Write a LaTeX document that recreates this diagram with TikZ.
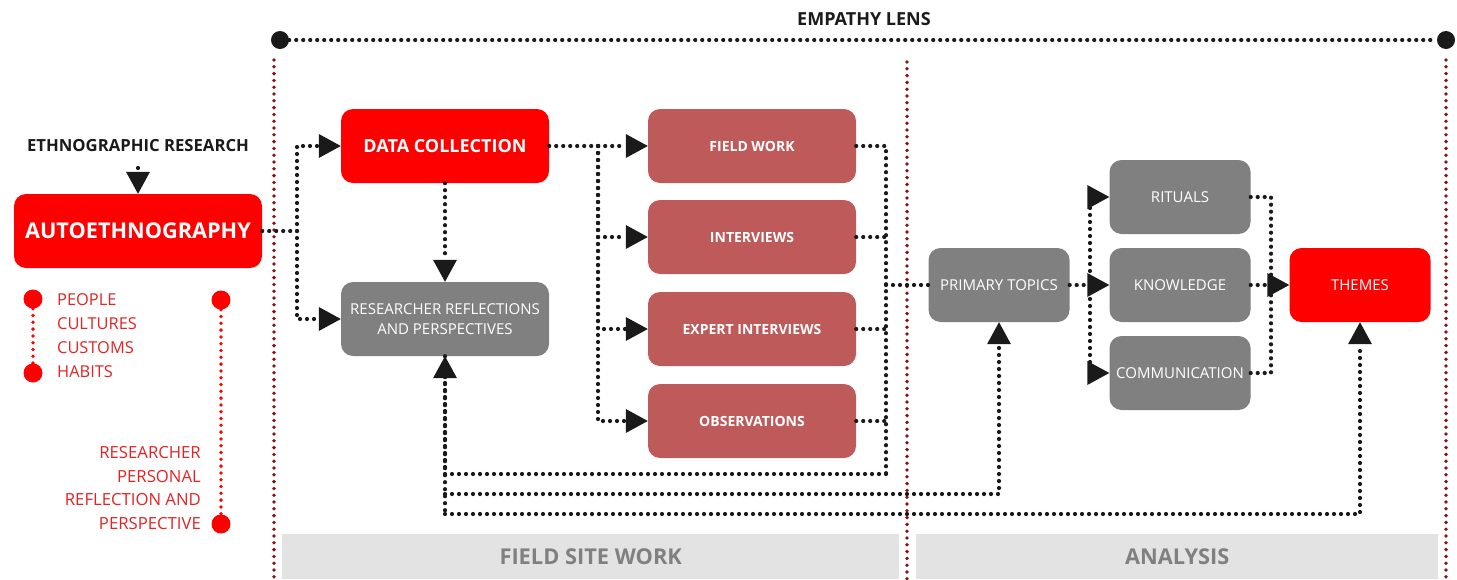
\documentclass[tikz,border=0pt]{standalone}
\usepackage{fontspec}
\setmainfont{Open Sans}
\usetikzlibrary{arrows.meta}
\definecolor{bred}{HTML}{FF0000}
\definecolor{mred}{HTML}{BE5A5A}
\definecolor{bgray}{HTML}{808080}
\definecolor{dred}{HTML}{8A1212}
\definecolor{tred}{HTML}{E32222}
\definecolor{band}{HTML}{E3E3E3}
\definecolor{ink}{HTML}{1A1A1A}
\tikzset{
  box/.style={rounded corners=12pt, minimum height=74pt, text=white, align=center, inner sep=0pt},
  bigbox/.style={box, minimum width=208pt},
  smallbox/.style={box, minimum width=141pt},
  redbox/.style={fill=bred},
  midbox/.style={fill=mred, font=\bfseries\fontsize{14}{17}\selectfont},
  graybox/.style={fill=bgray, font=\fontsize{15}{20}\selectfont},
  conn/.style={draw=ink, line width=4.2pt, line cap=round, dash pattern=on 0pt off 7pt},
  arr/.style={conn, -{Triangle[length=22pt,width=24pt,line width=0pt]}},
  rline/.style={draw=dred, line width=3.8pt, line cap=round, dash pattern=on 0pt off 6.8pt},
  tline/.style={draw=bred, line width=3.8pt, line cap=round, dash pattern=on 0pt off 6.8pt},
  bdot/.style={circle, fill=ink, minimum size=18pt, inner sep=0pt},
  rdot/.style={circle, fill=bred, minimum size=19pt, inner sep=0pt},
  bandbox/.style={fill=band, anchor=north west, minimum height=45pt, inner sep=0pt, text=bgray, font=\bfseries\fontsize{21.8}{24}\selectfont},
  head/.style={text=ink, font=\bfseries\fontsize{16.7}{18}\selectfont, inner sep=0pt},
}
\begin{document}
\begin{tikzpicture}[x=1pt,y=-1pt]
\useasboundingbox (0,0) rectangle (1457,579);

% frame lines
\draw[rline] (274,60) -- (274,579);
\draw[rline] (907,62) -- (907,579);
\draw[rline] (1446,60) -- (1446,579);

\node[bandbox, minimum width=617pt] (fsw) at (282,534) {FIELD SITE WORK};
\node[bandbox, minimum width=522pt] (ana) at (916,534) {ANALYSIS};

% empathy lens
\node[head, font=\bfseries\fontsize{18}{20}\selectfont] (el) at (864,19) {EMPATHY LENS};
\node[bdot] (eL) at (280,40) {};
\node[bdot] (eR) at (1446,40) {};
\draw[conn] (eL) -- (eR);

% left column
\node[head] (eth) at (138,146) {ETHNOGRAPHIC RESEARCH};
\node[box, redbox, minimum width=248pt, font=\bfseries\fontsize{21.7}{24}\selectfont] (auto) at (138,231) {AUTOETHNOGRAPHY};

\node[rdot] (p1) at (33,299) {};
\node[rdot] (p2) at (33,373) {};
\draw[tline] (p1) -- (p2);
\node[anchor=west, align=left, text=tred, font=\fontsize{16.4}{24}\selectfont, inner sep=0pt] (ppl) at (57,336) {PEOPLE\\CULTURES\\CUSTOMS\\HABITS};

\node[rdot] (r1) at (221,300) {};
\node[rdot] (r2) at (221,524) {};
\draw[tline] (r1) -- (r2);
\node[anchor=east, align=right, text=tred, font=\fontsize{16.7}{23.7}\selectfont, inner sep=0pt] (rpr) at (201,488) {RESEARCHER\\PERSONAL\\REFLECTION AND\\PERSPECTIVE};

% field site work
\node[bigbox, redbox, font=\bfseries\fontsize{18}{22}\selectfont] (dc) at (445,146) {DATA COLLECTION};
\node[bigbox, graybox] (rr) at (445,319) {RESEARCHER REFLECTIONS\\AND PERSPECTIVES};
\node[bigbox, midbox] (fw) at (752,146) {FIELD WORK};
\node[bigbox, midbox] (iv) at (752,237) {INTERVIEWS};
\node[bigbox, midbox] (ex) at (752,329) {EXPERT INTERVIEWS};
\node[bigbox, midbox] (ob) at (752,421) {OBSERVATIONS};

% analysis
\node[smallbox, graybox] (pt) at (999,285) {PRIMARY TOPICS};
\node[smallbox, graybox] (ri) at (1180,197) {RITUALS};
\node[smallbox, graybox] (kn) at (1180,285) {KNOWLEDGE};
\node[smallbox, graybox] (co) at (1180,373) {COMMUNICATION};
\node[smallbox, redbox, font=\fontsize{15}{20}\selectfont] (th) at (1360,285) {THEMES};

% junctions
\coordinate (e0) at (138,168);
\coordinate (j1) at (297,231);
\coordinate (j2) at (598,146);
\coordinate (j3) at (886,146);
\coordinate (b1) at (886,474);
\coordinate (b2) at (445,494);
\coordinate (b3) at (445,514);
\coordinate (j4) at (1090,285);
\coordinate (j5) at (1271,285);

% connectors
\draw[arr] (e0) -- (auto.north);
\draw[conn] (auto.east) -- (j1);
\draw[arr] (j1) |- (dc.west);
\draw[arr] (j1) |- (rr.west);
\draw[arr] (dc.south) -- (rr.north);
\draw[arr] (dc.east) -- (fw.west);
\draw[arr] (j2) |- (iv.west);
\draw[arr] (j2) |- (ex.west);
\draw[arr] (j2) |- (ob.west);

\draw[conn] (fw.east) -- (j3) -- (b1);
\draw[conn] (iv.east) -- (iv.east -| j3);
\draw[conn] (ex.east) -- (ex.east -| j3);
\draw[conn] (ob.east) -- (ob.east -| j3);
\draw[conn] (pt.west -| j3) -- (pt.west);
\draw[arr] (b1) -| (rr.south);
\draw[conn] (rr.south) -- (b3);
\draw[arr] (b2) -| (pt.south);
\draw[arr] (b3) -| (th.south);

\draw[conn] (pt.east) -- (j4);
\draw[arr] (j4) |- (ri.west);
\draw[arr] (j4) -- (kn.west);
\draw[arr] (j4) |- (co.west);
\draw[conn] (ri.east) -| (j5);
\draw[conn] (co.east) -| (j5);
\draw[arr] (kn.east) -- (th.west);
\end{tikzpicture}
\end{document}
